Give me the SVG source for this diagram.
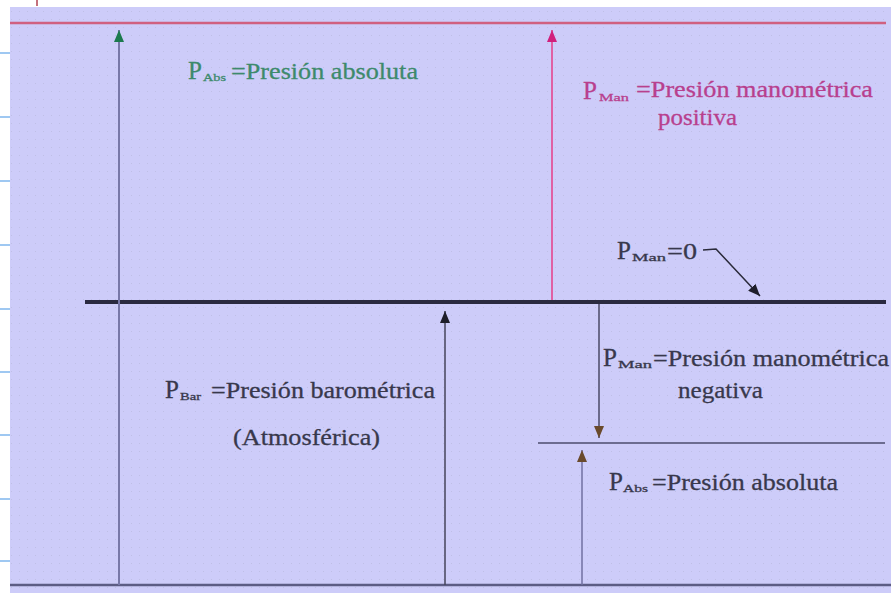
<svg xmlns="http://www.w3.org/2000/svg" width="891" height="594" viewBox="0 0 891 594">
  <style>
    .t { font-size: 24px; }
    .p { font-size: 25px; }
    .s { font-size: 11px; }
    .green { fill: #3d8a6c; stroke: #3d8a6c; stroke-width: 0.3; }
    .pink { fill: #b8408e; stroke: #b8408e; stroke-width: 0.3; }
    .dark { fill: #38384c; stroke: #38384c; stroke-width: 0.3; }
    .tick { stroke: #7fb6ee; stroke-width: 1.5; }
  </style>
  <defs>
    <pattern id="dots" width="8" height="8" patternUnits="userSpaceOnUse">
      <rect x="3" y="3" width="1" height="1" fill="#bfbfe6"/>
    </pattern>
    <marker id="mGreen" viewBox="0 0 12 10" refX="12" refY="5" markerWidth="12" markerHeight="10" markerUnits="userSpaceOnUse" orient="auto">
      <path d="M0,0 L12,5 L0,10 z" fill="#1c7a4e"/>
    </marker>
    <marker id="mPink" viewBox="0 0 12 10" refX="12" refY="5" markerWidth="12" markerHeight="10" markerUnits="userSpaceOnUse" orient="auto">
      <path d="M0,0 L12,5 L0,10 z" fill="#d0207c"/>
    </marker>
    <marker id="mBlack" viewBox="0 0 12 10" refX="12" refY="5" markerWidth="12" markerHeight="10" markerUnits="userSpaceOnUse" orient="auto">
      <path d="M0,0 L12,5 L0,10 z" fill="#1e1e2a"/>
    </marker>
    <marker id="mBrown" viewBox="0 0 12 10" refX="12" refY="5" markerWidth="12" markerHeight="10" markerUnits="userSpaceOnUse" orient="auto">
      <path d="M0,0 L12,5 L0,10 z" fill="#6a4a2c"/>
    </marker>
  </defs>

  <rect x="0" y="0" width="891" height="594" fill="#ffffff"/>
  <rect x="10" y="7" width="881" height="586" fill="#cdccf9"/>
  <rect x="10" y="7" width="881" height="586" fill="url(#dots)"/>

  <g id="side-ticks">
    <line class="tick" x1="0" y1="53" x2="10" y2="53"/>
    <line class="tick" x1="0" y1="117" x2="10" y2="117"/>
    <line class="tick" x1="0" y1="181" x2="10" y2="181"/>
    <line class="tick" x1="0" y1="245" x2="10" y2="245"/>
    <line class="tick" x1="0" y1="309" x2="10" y2="309"/>
    <line class="tick" x1="0" y1="372" x2="10" y2="372"/>
    <line class="tick" x1="0" y1="435" x2="10" y2="435"/>
    <line class="tick" x1="0" y1="499" x2="10" y2="499"/>
    <line class="tick" x1="0" y1="561" x2="10" y2="561"/>
    <line x1="37" y1="0" x2="37" y2="6" stroke="#b04050" stroke-width="1.5"/>
  </g>

  <g id="levels">
    <line id="top-line" x1="10" y1="23" x2="886" y2="23" stroke="#d06080" stroke-width="2.5"/>
    <line id="atm-line" x1="85" y1="302" x2="886" y2="302" stroke="#2a2a40" stroke-width="4"/>
    <line id="vac-line" x1="538" y1="443" x2="885" y2="443" stroke="#6c6c90" stroke-width="2"/>
    <line id="zero-line" x1="10" y1="585" x2="891" y2="585" stroke="#5c5c84" stroke-width="2.5"/>
  </g>

  <g id="connectors">
    <line x1="119" y1="585" x2="119" y2="30" stroke="#7878a8" stroke-width="2" marker-end="url(#mGreen)"/>
    <line x1="552" y1="300" x2="552" y2="30" stroke="#e060a4" stroke-width="2" marker-end="url(#mPink)"/>
    <line x1="445" y1="585" x2="445" y2="311" stroke="#44445a" stroke-width="1.5" marker-end="url(#mBlack)"/>
    <line x1="599" y1="304" x2="599" y2="438" stroke="#4a4a66" stroke-width="1.5" marker-end="url(#mBrown)"/>
    <line x1="582" y1="585" x2="582" y2="450" stroke="#7070a0" stroke-width="1.5" marker-end="url(#mBrown)"/>
    <path d="M703,250 L716,249 L760,296" fill="none" stroke="#2a2a3a" stroke-width="1.5" marker-end="url(#mBlack)"/>
  </g>

  <g id="label-pabs-top" font-family="Liberation Serif, serif">
    <text class="p green" x="188" y="79">P</text>
    <text class="s green" x="203" y="81" textLength="23" lengthAdjust="spacingAndGlyphs">Abs</text>
    <text class="t green" x="231" y="79" textLength="187" lengthAdjust="spacingAndGlyphs">=Presión absoluta</text>
  </g>

  <g id="label-pman-pos" font-family="Liberation Serif, serif">
    <text class="p pink" x="583" y="99">P</text>
    <text class="s pink" x="599" y="101" textLength="30" lengthAdjust="spacingAndGlyphs">Man</text>
    <text class="t pink" x="636" y="97" textLength="237" lengthAdjust="spacingAndGlyphs">=Presión manométrica</text>
    <text class="t pink" x="658" y="125" textLength="79" lengthAdjust="spacingAndGlyphs">positiva</text>
  </g>

  <g id="label-pman-zero" font-family="Liberation Serif, serif">
    <text class="p dark" x="617" y="259">P</text>
    <text class="s dark" x="632" y="261" textLength="34" lengthAdjust="spacingAndGlyphs">Man</text>
    <text class="t dark" x="667" y="259" textLength="30" lengthAdjust="spacingAndGlyphs">=0</text>
  </g>

  <g id="label-pbar" font-family="Liberation Serif, serif">
    <text class="p dark" x="165" y="398">P</text>
    <text class="s dark" x="180" y="400" textLength="21" lengthAdjust="spacingAndGlyphs">Bar</text>
    <text class="t dark" x="211" y="398" textLength="224" lengthAdjust="spacingAndGlyphs">=Presión barométrica</text>
    <text class="t dark" x="233" y="445" textLength="147" lengthAdjust="spacingAndGlyphs">(Atmosférica)</text>
  </g>

  <g id="label-pman-neg" font-family="Liberation Serif, serif">
    <text class="p dark" x="603" y="366">P</text>
    <text class="s dark" x="618" y="368" textLength="34" lengthAdjust="spacingAndGlyphs">Man</text>
    <text class="t dark" x="653" y="366" textLength="236" lengthAdjust="spacingAndGlyphs">=Presión manométrica</text>
    <text class="t dark" x="678" y="398" textLength="85" lengthAdjust="spacingAndGlyphs">negativa</text>
  </g>

  <g id="label-pabs-bottom" font-family="Liberation Serif, serif">
    <text class="p dark" x="609" y="490">P</text>
    <text class="s dark" x="623" y="492" textLength="25" lengthAdjust="spacingAndGlyphs">Abs</text>
    <text class="t dark" x="652" y="490" textLength="186" lengthAdjust="spacingAndGlyphs">=Presión absoluta</text>
  </g>
</svg>
